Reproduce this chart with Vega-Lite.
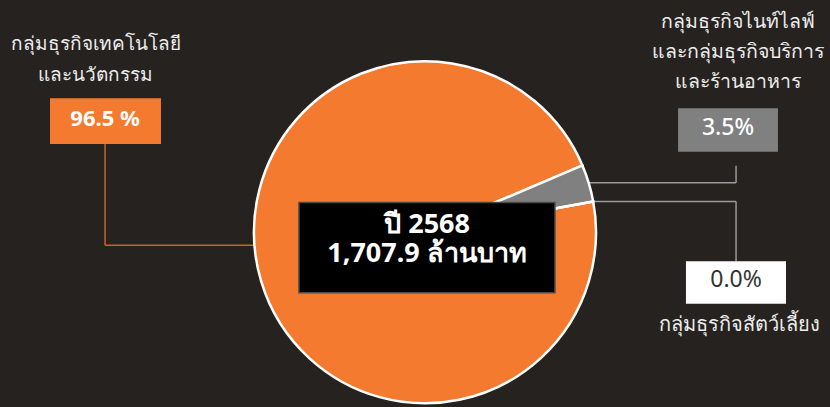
{
  "$schema": "https://vega.github.io/schema/vega-lite/v6.json",
  "width": 830,
  "height": 407,
  "autosize": {"type": "fit", "contains": "padding"},
  "padding": 0,
  "background": "#262220",
  "config": {
    "view": {"stroke": null},
    "axis": {"disable": true},
    "text": {"font": "Noto Sans"}
  },
  "datasets": {
    "segments": [
      {"group": "tech", "label": "กลุ่มธุรกิจเทคโนโลยี\nและนวัตกรรม", "share": 96.5, "shareLabel": "96.5 %"},
      {"group": "nightlife", "label": "กลุ่มธุรกิจไนท์ไลฟ์\nและกลุ่มธุรกิจบริการ\nและร้านอาหาร", "share": 3.5, "shareLabel": "3.5%"},
      {"group": "pet", "label": "กลุ่มธุรกิจสัตว์เลี้ยง", "share": 0.0, "shareLabel": "0.0%"}
    ],
    "summary": [{"caption": "ปี 2568\n1,707.9 ล้านบาท"}]
  },
  "data": {"name": "segments"},
  "layer": [
    {
      "transform": [{"filter": "datum.group === 'tech'"}],
      "mark": {"type": "rule", "color": "#C8642A", "strokeWidth": 1.5},
      "encoding": {
        "x": {"datum": -1.871, "type": "quantitative", "scale": {"domain": [-2.4854, 2.3684], "nice": false, "zero": false}, "axis": null},
        "y": {"datum": 0.520, "type": "quantitative", "scale": {"domain": [-1.0117, 1.3684], "nice": false, "zero": false}, "axis": null},
        "y2": {"datum": -0.076}
      }
    },
    {
      "transform": [{"filter": "datum.group === 'tech'"}],
      "mark": {"type": "rule", "color": "#C8642A", "strokeWidth": 1.5},
      "encoding": {
        "x": {"datum": -1.871, "type": "quantitative"},
        "x2": {"datum": -1.0},
        "y": {"datum": -0.076, "type": "quantitative"}
      }
    },
    {
      "transform": [{"filter": "datum.group === 'nightlife'"}],
      "mark": {"type": "rule", "color": "#9A9A9A", "strokeWidth": 1.5},
      "encoding": {
        "x": {"datum": 1.819, "type": "quantitative"},
        "y": {"datum": 0.392, "type": "quantitative"},
        "y2": {"datum": 0.292}
      }
    },
    {
      "transform": [{"filter": "datum.group === 'nightlife'"}],
      "mark": {"type": "rule", "color": "#9A9A9A", "strokeWidth": 1.5},
      "encoding": {
        "x": {"datum": 0.953, "type": "quantitative"},
        "x2": {"datum": 1.819},
        "y": {"datum": 0.292, "type": "quantitative"}
      }
    },
    {
      "transform": [{"filter": "datum.group === 'pet'"}],
      "mark": {"type": "rule", "color": "#9A9A9A", "strokeWidth": 1.5},
      "encoding": {
        "x": {"datum": 0.982, "type": "quantitative"},
        "x2": {"datum": 1.819},
        "y": {"datum": 0.181, "type": "quantitative"}
      }
    },
    {
      "transform": [{"filter": "datum.group === 'pet'"}],
      "mark": {"type": "rule", "color": "#9A9A9A", "strokeWidth": 1.5},
      "encoding": {
        "x": {"datum": 1.819, "type": "quantitative"},
        "y": {"datum": 0.181, "type": "quantitative"},
        "y2": {"datum": -0.170}
      }
    },
    {
      "mark": {"type": "arc", "outerRadius": 171, "stroke": "#FFFFFF", "strokeWidth": 2.5},
      "encoding": {
        "x": {"datum": 0, "type": "quantitative"},
        "y": {"datum": 0, "type": "quantitative"},
        "theta": {"field": "share", "type": "quantitative", "stack": true, "scale": {"domain": [0, 100], "range": [1.3893, 7.6725]}},
        "color": {"field": "group", "type": "nominal", "scale": {"domain": ["tech", "nightlife", "pet"], "range": ["#F37A2E", "#808080", "#FFFFFF"]}, "legend": null},
        "order": {"field": "share", "type": "quantitative", "sort": "descending"}
      }
    },
    {
      "transform": [{"filter": "datum.group === 'tech'"}],
      "mark": {"type": "rect", "color": "#F37A2E"},
      "encoding": {
        "x": {"datum": -2.193, "type": "quantitative"},
        "x2": {"datum": -1.544},
        "y": {"datum": 0.789, "type": "quantitative"},
        "y2": {"datum": 0.520}
      }
    },
    {
      "transform": [{"filter": "datum.group === 'tech'"}],
      "mark": {"type": "text", "fontSize": 22, "fontWeight": "bold", "color": "#FFFFFF", "align": "center", "baseline": "alphabetic"},
      "encoding": {
        "x": {"datum": -1.871, "type": "quantitative"},
        "y": {"datum": 0.626, "type": "quantitative"},
        "text": {"field": "shareLabel"}
      }
    },
    {
      "transform": [{"filter": "datum.group === 'tech'"}],
      "mark": {"type": "text", "fontSize": 19, "color": "#EDEDED", "align": "center", "baseline": "alphabetic", "lineBreak": "\n", "lineHeight": 31},
      "encoding": {
        "x": {"datum": -1.924, "type": "quantitative"},
        "y": {"datum": 1.076, "type": "quantitative"},
        "text": {"field": "label"}
      }
    },
    {
      "transform": [{"filter": "datum.group === 'nightlife'"}],
      "mark": {"type": "rect", "color": "#808080"},
      "encoding": {
        "x": {"datum": 1.480, "type": "quantitative"},
        "x2": {"datum": 2.064},
        "y": {"datum": 0.731, "type": "quantitative"},
        "y2": {"datum": 0.474}
      }
    },
    {
      "transform": [{"filter": "datum.group === 'nightlife'"}],
      "mark": {"type": "text", "fontSize": 23, "fontWeight": 500, "color": "#FFFFFF", "align": "center", "baseline": "alphabetic"},
      "encoding": {
        "x": {"datum": 1.772, "type": "quantitative"},
        "y": {"datum": 0.573, "type": "quantitative"},
        "text": {"field": "shareLabel"}
      }
    },
    {
      "transform": [{"filter": "datum.group === 'nightlife'"}],
      "mark": {"type": "text", "fontSize": 19.5, "color": "#EDEDED", "align": "center", "baseline": "alphabetic", "lineBreak": "\n", "lineHeight": 30},
      "encoding": {
        "x": {"datum": 1.830, "type": "quantitative"},
        "y": {"datum": 1.205, "type": "quantitative"},
        "text": {"field": "label"}
      }
    },
    {
      "transform": [{"filter": "datum.group === 'pet'"}],
      "mark": {"type": "rect", "color": "#FFFFFF"},
      "encoding": {
        "x": {"datum": 1.526, "type": "quantitative"},
        "x2": {"datum": 2.111},
        "y": {"datum": -0.170, "type": "quantitative"},
        "y2": {"datum": -0.421}
      }
    },
    {
      "transform": [{"filter": "datum.group === 'pet'"}],
      "mark": {"type": "text", "fontSize": 23, "color": "#333333", "align": "center", "baseline": "alphabetic"},
      "encoding": {
        "x": {"datum": 1.819, "type": "quantitative"},
        "y": {"datum": -0.322, "type": "quantitative"},
        "text": {"field": "shareLabel"}
      }
    },
    {
      "transform": [{"filter": "datum.group === 'pet'"}],
      "mark": {"type": "text", "fontSize": 20, "color": "#EDEDED", "align": "center", "baseline": "alphabetic"},
      "encoding": {
        "x": {"datum": 1.842, "type": "quantitative"},
        "y": {"datum": -0.579, "type": "quantitative"},
        "text": {"field": "label"}
      }
    },
    {
      "data": {"name": "summary"},
      "mark": {"type": "rect", "color": "#000000", "stroke": "#4A4A4A", "strokeWidth": 1.5},
      "encoding": {
        "x": {"datum": -0.737, "type": "quantitative"},
        "x2": {"datum": 0.760},
        "y": {"datum": 0.175, "type": "quantitative"},
        "y2": {"datum": -0.357}
      }
    },
    {
      "data": {"name": "summary"},
      "mark": {"type": "text", "fontSize": 27, "fontWeight": "bold", "color": "#FFFFFF", "align": "center", "baseline": "alphabetic", "lineBreak": "\n", "lineHeight": 29},
      "encoding": {
        "x": {"datum": 0.012, "type": "quantitative"},
        "y": {"datum": -0.006, "type": "quantitative"},
        "text": {"field": "caption"}
      }
    }
  ]
}
